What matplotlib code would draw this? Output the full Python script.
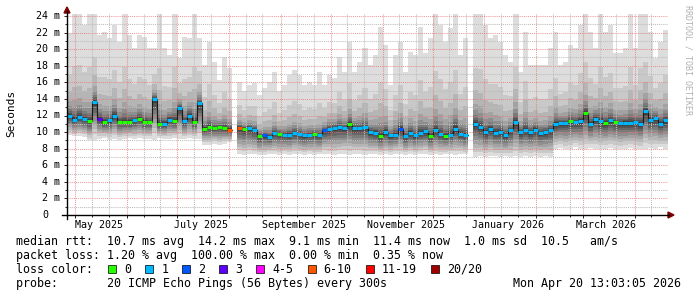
import datetime as dt

import matplotlib
matplotlib.use("Agg")
import matplotlib.pyplot as plt
import numpy as np
from matplotlib.lines import Line2D
from matplotlib.patches import Polygon, Rectangle

plt.rcParams["font.family"] = "DejaVu Sans Mono"

# one column = 3 days, starting 2025-04-26
start = dt.date(2025, 4, 26)
col_days = 3
span_days = 360

nan = np.nan

median_ms = [
    12.0, 11.5, 11.8, 11.6, 11.3, 13.6, 11.6, 11.2, 11.4, 12.0, 11.2, 11.2, 11.2, 11.4, 11.6, 11.2,
    11.2, 14.0, 11.0, 11.0, 11.5, 11.3, 12.9, 11.3, 12.0, 11.2, 13.5, 10.4, 10.6, 10.5, 10.6,
    10.5, 10.3, nan, 10.5, 10.4, 10.5, 10.3, 9.5, 9.6, 9.4, 9.9, 9.8, 9.7, 9.7, 9.9, 9.8, 9.6,
    9.7, 9.8, 9.6, 10.2, 10.4, 10.5, 10.6, 10.5, 11.0, 10.5, 10.5, 10.6, 10.0,
    9.9, 9.5, 10.0, 9.6, 9.7, 10.4, 9.5, 9.9, 9.6, 9.9, 10.1, 9.5, 10.2, 9.8, 9.5, 9.7, 10.4,
    9.8, 9.6, nan, 11.0, 10.6, 10.0, 10.4, 9.9, 10.0, 9.6, 10.2, 11.2, 10.0,
    10.3, 10.0, 10.3, 9.9, 10.0, 10.2, 11.0, 11.1, 11.1, 11.3, 11.2, 11.3, 12.3, 11.0, 11.6,
    11.3, 11.1, 11.4, 11.2, 11.1, 11.1, 11.1, 11.2, 11.0, 12.5, 11.5, 11.7, 11.0, 11.4,
]

# pings lost (of 20) per column
lost_pings = [
    1, 1, 1, 1, 0, 1, 3, 0, 1, 1, 0, 0, 0, 1, 0, 0, 0, 1, 0, 1, 1, 0, 1, 1, 1, 0, 1, 0, 0, 0, 0,
    0, 7, 0, 7, 0, 1, 1, 0, 2, 1, 1, 0, 1, 1, 1, 1, 1, 1, 0, 1, 2, 1, 1, 1, 1, 0, 1, 1, 1, 1,
    1, 0, 1, 1, 1, 2, 1, 1, 1, 1, 1, 0, 1, 1, 0, 1, 1, 1, 1, 0, 1, 1, 1, 1, 1, 1, 1, 1, 1, 1,
    1, 1, 1, 1, 1, 1, 1, 1, 1, 0, 1, 1, 0, 1, 1, 1, 0, 1, 0, 1, 1, 1, 1, 1, 1, 1, 1, 1, 1,
]

# highest ping per column (smoke top)
top_ms = [
    22.0, 24.5, 24.5, 22.9, 24.5, 24.5, 21.7, 22.1, 21.3, 22.9, 20.9, 24.5, 21.7, 20.1, 21.7, 21.5,
    20.1, 20.1, 24.5, 20.1, 19.3, 24.5, 18.9, 21.5, 21.3, 24.5, 21.3, 18.1, 20.9, 18.5, 16.3,
    19.1, 17.7, nan, 16.1, 14.9, 15.7, 15.9, 14.5, 15.3, 16.1, 17.3, 14.9, 15.7, 16.9, 17.5, 16.9,
    15.7, 16.1, 15.7, 17.3, 15.7, 16.9, 16.5, 19.1, 17.3, 20.9, 17.3, 18.5, 20.1, 18.1,
    19.3, 22.7, 20.5, 15.7, 19.3, 20.9, 17.3, 19.7, 19.3, 22.7, 19.5, 21.3, 24.5, 22.9, 20.9,
    22.5, 24.5, 19.3, 21.3, nan, 24.5, 24.5, 22.9, 21.3, 21.7, 20.9, 19.3, 18.5, 24.5, 17.3,
    22.1, 18.1, 18.1, 18.1, 18.1, 20.1, 22.1, 18.1, 18.5, 20.5, 20.1, 22.9, 24.5, 22.1, 20.1,
    24.5, 22.1, 22.9, 19.5, 19.5, 20.1, 24.5, 20.1, 24.5, 24.5, 22.1, 18.9, 20.9, 22.3,
]

# lowest ping per column (smoke bottom)
bottom_ms = [
    9.6, 9.5, 9.5, 9.4, 9.0, 9.1, 9.2, 9.3, 9.1, 9.2, 9.1, 9.2, 9.3, 9.2, 9.3, 9.2, 9.2, 9.1,
    9.3, 9.2, 9.2, 9.3, 9.2, 9.2, 9.3, 9.2, 9.2, 8.5, 8.5, 8.6, 8.5,
    8.6, 8.8, nan, 7.3, 7.2, 7.3, 7.3, 7.2, 7.2, 7.4, 7.3, 7.2, 7.3, 7.2, 7.4, 7.3, 7.2, 7.3,
    7.2, 7.3, 7.4, 7.3, 7.2, 7.3, 7.4, 7.2, 7.3, 7.3, 7.2, 7.3,
    7.3, 7.2, 7.3, 7.2, 7.4, 7.3, 7.2, 7.3, 7.2, 7.3, 7.4, 7.2, 7.3, 7.2, 7.3, 7.3, 7.2, 7.4,
    7.3, nan, 7.0, 7.1, 7.0, 7.1, 7.1, 7.0, 7.1, 7.0, 7.1, 7.0,
    7.1, 7.0, 7.1, 7.0, 7.1, 7.0, 8.0, 8.1, 7.9, 8.0, 8.2, 8.0, 7.9, 8.1, 8.0, 7.9, 8.0, 8.1,
    8.0, 7.9, 8.0, 8.1, 8.0, 7.9, 8.0, 8.1, 8.0, 8.2, 8.0,
]

month_labels = ["May 2025", "July 2025", "September 2025", "November 2025", "January 2026", "March 2026"]
label_dates = [dt.date(2025, 5, 15), dt.date(2025, 7, 15), dt.date(2025, 9, 15),
               dt.date(2025, 11, 15), dt.date(2026, 1, 15), dt.date(2026, 3, 15)]

loss_labels = ["0", "1", "2", "3", "4-5", "6-10", "11-19", "20/20"]
loss_colors = ["#26ff00", "#00b8ff", "#0059ff", "#5e00ff", "#ff00ff", "#ff5500", "#ff0000", "#a10000"]

rtt_line = "median rtt:  10.7 ms avg  14.2 ms max  9.1 ms min  11.4 ms now  1.0 ms sd  10.5   am/s"
loss_line = "packet loss: 1.20 % avg  100.00 % max  0.00 % min  0.35 % now"
probe_line = "probe:       20 ICMP Echo Pings (56 Bytes) every 300s"
stamp = "Mon Apr 20 13:03:05 2026"

W, H = 697, 297


def fx(x):
    return x / W


def fy(y):
    return 1 - y / H


def day(d):
    return (d - start).days


def loss_class(n):
    if n <= 3:
        return n
    if n <= 5:
        return 4
    if n <= 10:
        return 5
    if n < 20:
        return 6
    return 7


fig = plt.figure(figsize=(W / 100, H / 100), dpi=100)
fig.patch.set_facecolor("white")
ax = fig.add_axes([fx(67), fy(215), 601 / W, 201 / H])
ax.set_xlim(0, span_days)
ax.set_ylim(0, 201 / (199 / 24))
for s in ax.spines.values():
    s.set_visible(False)

med = np.array(median_ms)
hi = np.array(top_ms)
lo = np.array(bottom_ms)
days = np.arange(len(med)) * col_days
xx = np.column_stack([days, days + col_days]).ravel()

# smoke: outer pings light, inner pings dark
up_frac = [1.0, 0.5, 0.3, 0.18, 0.12, 0.08, 0.055, 0.035, 0.02, 0.01]
dn_frac = [1.0, 0.85, 0.72, 0.6, 0.49, 0.38, 0.28, 0.19, 0.11, 0.05]
greys = np.linspace(221, 45, 10)
for k in range(10):
    upper = med + (hi - med) * up_frac[k]
    lower = med - (med - lo) * dn_frac[k]
    g = int(greys[k])
    ax.fill_between(xx, np.repeat(lower, 2), np.repeat(upper, 2),
                    color="#%02x%02x%02x" % (g, g, g), lw=0, zorder=1)

# grid
dots = (0, (1, 1))
for y in range(1, 25):
    if y % 2 == 0:
        ax.axhline(y, color="#e87878", lw=0.75, ls=dots, alpha=0.75, zorder=2)
    else:
        ax.axhline(y, color="#bdbdbd", lw=0.75, ls=dots, zorder=2)
major_x, minor_x = [], []
y_, m_ = 2025, 4
while True:
    for d in (1, 11, 21):
        t = day(dt.date(y_, m_, d))
        if 0 < t < span_days:
            (major_x if d == 1 else minor_x).append(t)
    m_ += 1
    if m_ > 12:
        y_, m_ = y_ + 1, 1
    if (y_, m_) > (2026, 4):
        break
for t in minor_x:
    ax.axvline(t, color="#bdbdbd", lw=0.75, ls=dots, zorder=2)
for t in major_x:
    ax.axvline(t, color="#e87878", lw=0.75, ls=dots, alpha=0.75, zorder=2)

# median line, coloured by loss
ax.plot(xx, np.repeat(med, 2), color="#1a1a1a", lw=0.8, zorder=3)
ok = ~np.isnan(med)
cols = [loss_colors[loss_class(n)] for n in np.array(lost_pings)[ok]]
ax.hlines(med[ok], days[ok], days[ok] + col_days, colors=cols, lw=2.2, zorder=4)

# ticks
ax.set_xticks(major_x)
ax.set_xticks(minor_x, minor=True)
ax.set_yticks(range(0, 25, 2))
ax.set_yticks(range(1, 25, 2), minor=True)
ax.set_xticklabels([])
ax.set_yticklabels([])
ax.tick_params(which="major", direction="out", length=2.5, width=0.6, color="black")
ax.tick_params(which="minor", direction="out", length=1.5, width=0.6, color="black")

for lab, d in zip(month_labels, label_dates):
    ax.text(day(d), -1.2, lab, ha="center", va="center", fontsize=7.2)

for v in range(0, 25, 2):
    ypx = 215 - v * 199 / 24
    if v == 0:
        fig.text(fx(48), fy(ypx), "0", ha="right", va="center", fontsize=7.2)
    else:
        fig.text(fx(60), fy(ypx), f"{v} m", ha="right", va="center", fontsize=7.2)

fig.text(fx(11), fy(113), "Seconds", rotation=90, ha="center", va="center", fontsize=8)
fig.text(fx(688), fy(5), "RRDTOOL / TOBI OETIKER", rotation=-90, ha="center", va="top",
         fontsize=6, color="#b0b0b0")

# axes with arrows
fig.add_artist(Line2D([fx(67), fx(67)], [fy(219), fy(11)], color="black", lw=1.0))
fig.add_artist(Line2D([fx(62), fx(669)], [fy(215), fy(215)], color="black", lw=1.0))
fig.add_artist(Polygon([[fx(64), fy(13)], [fx(70), fy(13)], [fx(67), fy(7)]],
                       closed=True, color="#800000", transform=fig.transFigure))
fig.add_artist(Polygon([[fx(668), fy(212)], [fx(668), fy(218)], [fx(674), fy(215)]],
                       closed=True, color="#800000", transform=fig.transFigure))

# legend block
fs = 8.4
fig.text(fx(16), fy(245), rtt_line, fontsize=fs, va="baseline")
fig.text(fx(16), fy(259), loss_line, fontsize=fs, va="baseline")
fig.text(fx(16), fy(273), "loss color:", fontsize=fs, va="baseline")
fig.text(fx(16), fy(287), probe_line, fontsize=fs, va="baseline")
fig.text(fx(681), fy(287), stamp, fontsize=fs, va="baseline", ha="right")

box_cols = [13, 18, 23, 28, 33, 40, 48, 57]
for k, (lab, c) in enumerate(zip(loss_labels, loss_colors)):
    bx = 16 + 7.1 * box_cols[k] + 1.5 * k
    fig.add_artist(Rectangle((fx(bx), fy(273)), 8 / W, 8 / H, facecolor=c,
                             edgecolor="black", lw=0.5, transform=fig.transFigure))
    fig.text(fx(bx + 16), fy(273), lab, fontsize=fs, va="baseline")

fig.savefig("out.png", dpi=100)
